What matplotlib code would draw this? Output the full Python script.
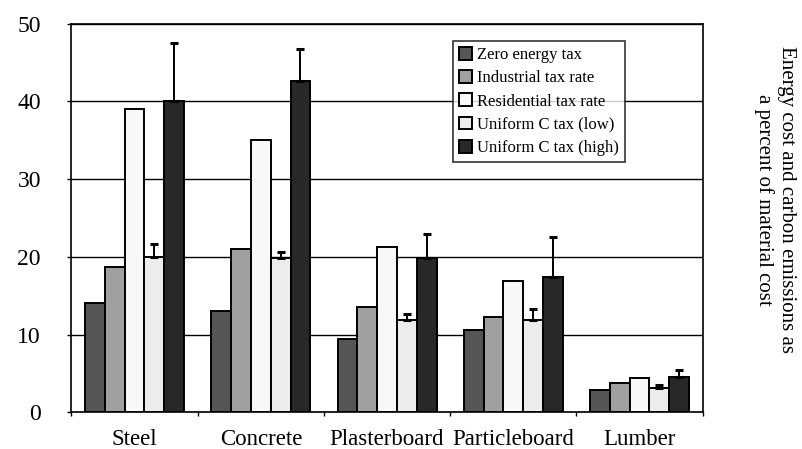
import numpy as np
import matplotlib.pyplot as plt

plt.rcParams['font.family'] = ['Liberation Serif', 'DejaVu Serif']

# data
materials = ['Steel', 'Concrete', 'Plasterboard', 'Particleboard', 'Lumber']
series_names = ['Zero energy tax', 'Industrial tax rate', 'Residential tax rate',
                'Uniform C tax (low)', 'Uniform C tax (high)']
zero_tax = [14.0, 13.0, 9.4, 10.6, 2.9]
industrial = [18.7, 21.0, 13.6, 12.3, 3.8]
residential = [39.0, 35.0, 21.3, 16.9, 4.4]
uniform_low = [20.0, 19.8, 11.9, 11.9, 3.1]
uniform_high = [40.0, 42.7, 19.9, 17.4, 4.5]
low_err = [1.6, 0.8, 0.7, 1.4, 0.4]
high_err = [7.5, 4.1, 3.1, 5.2, 0.9]

colors = ['#555555', '#a0a0a0', '#f8f8f8', '#ececec', '#282828']

fig, ax = plt.subplots(figsize=(8.03, 4.49), dpi=100)
fig.subplots_adjust(left=0.089, right=0.875, top=0.947, bottom=0.082)

x = np.arange(len(materials))
w = 0.157
all_vals = [zero_tax, industrial, residential, uniform_low, uniform_high]
errs = [None, None, None, low_err, high_err]

for i, (vals, name) in enumerate(zip(all_vals, series_names)):
    pos = x + (i - 2) * w
    yerr = None
    if errs[i] is not None:
        yerr = [np.zeros(len(vals)), errs[i]]
    ax.bar(pos, vals, w, color=colors[i], edgecolor='black', linewidth=1.4,
           label=name, zorder=3, yerr=yerr,
           error_kw=dict(ecolor='black', elinewidth=1.4, capsize=3, capthick=2.2))

ax.set_xlim(-0.5, len(materials) - 0.5)
ax.set_ylim(0, 50)
ax.set_yticks([0, 10, 20, 30, 40, 50])
ax.set_xticks(x)
ax.set_xticklabels(materials, fontsize=16.5)
ax.set_xticks(np.arange(len(materials) + 1) - 0.5, minor=True)
ax.tick_params(axis='x', which='major', length=0, pad=12)
ax.tick_params(axis='x', which='minor', length=3, width=1, direction='out')
ax.tick_params(axis='y', labelsize=17, length=3, width=1, direction='out', pad=19)
ax.grid(axis='y', color='black', linewidth=1.0, zorder=0)
ax.set_axisbelow(True)
for s in ax.spines.values():
    s.set_linewidth(1.2)

leg = ax.legend(loc='upper left', bbox_to_anchor=(0.605, 0.955), fontsize=12,
                frameon=True, fancybox=False, edgecolor='black',
                handlelength=0.8, handleheight=0.8, handletextpad=0.3,
                labelspacing=0.42, borderpad=0.35, borderaxespad=0)
leg.get_frame().set_linewidth(1.2)
leg.set_zorder(5)

fig.text(0.965, 0.555, 'Energy cost and carbon emissions as\na percent of material cost',
         rotation=-90, ha='center', va='center', fontsize=15, multialignment='center')

fig.savefig('out.png', dpi=100)
